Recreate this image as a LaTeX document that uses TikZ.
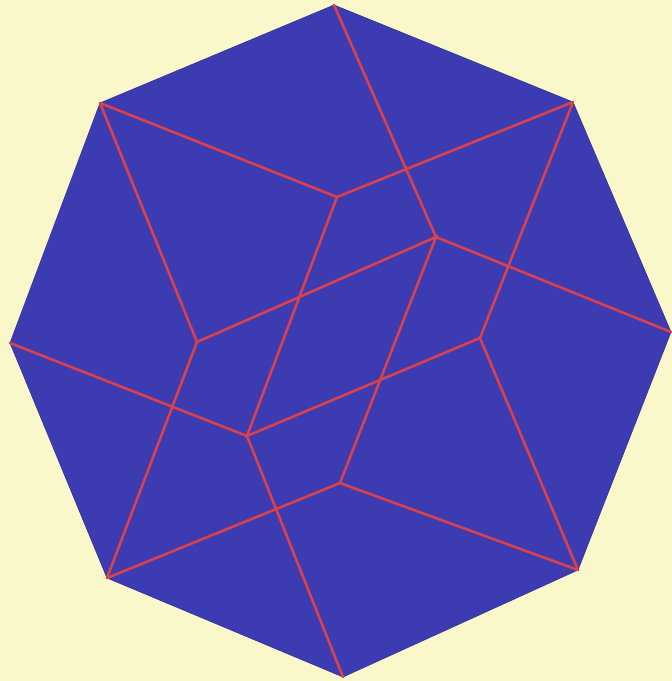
\documentclass[tikz,border=0pt]{standalone}
\usepackage{tikz}
\definecolor{ocpaper}{HTML}{FAF8CA}
\definecolor{ocblue}{HTML}{3C3BB2}
\definecolor{ocred}{HTML}{D9414C}

\begin{document}
\begin{tikzpicture}[x=1pt,y=-1pt,
  tile/.style={fill=ocblue,draw=ocblue!85!black,line width=0.6pt,line join=round},
  seam/.style={draw=ocred,line width=2.6pt,line cap=round},
]
% paper
\fill[ocpaper] (0,0) rectangle (672,681);
\useasboundingbox (0,0) rectangle (672,681);

% octagon corners
\coordinate (T)  at (334,5);
\coordinate (UR) at (573,102);
\coordinate (R)  at (671,332);
\coordinate (LR) at (578,570);
\coordinate (B)  at (343,677);
\coordinate (LL) at (107,578);
\coordinate (L)  at (10,343);
\coordinate (UL) at (100,103);
\fill[tile] (T) -- (UR) -- (R) -- (LR) -- (B) -- (LL) -- (L) -- (UL) -- cycle;

% inner vertices
\coordinate (P1) at (337,197);
\coordinate (P2) at (436,237);
\coordinate (P3) at (197,342);
\coordinate (P4) at (480,338);
\coordinate (P5) at (247,436);
\coordinate (P6) at (340,483);

% red seams
\draw[seam] (UL) -- (P1) -- (UR);
\draw[seam] (T) -- (P2) -- (R);
\draw[seam] (UR) -- (P4) -- (LR);
\draw[seam] (UL) -- (P3) -- (LL);
\draw[seam] (P3) -- (P2) -- (P6);
\draw[seam] (P1) -- (P5) -- (P4);
\draw[seam] (L) -- (P5) -- (B);
\draw[seam] (LL) -- (P6) -- (LR);

\end{tikzpicture}
\end{document}
